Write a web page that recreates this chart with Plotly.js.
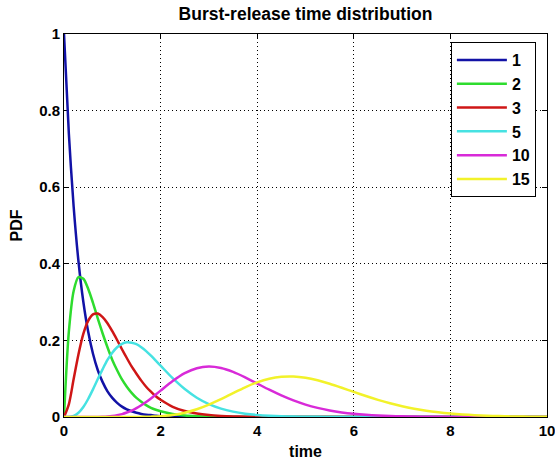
<!DOCTYPE html>
<html>
<head>
<meta charset="utf-8">
<script src="https://cdn.plot.ly/plotly-3.0.1.min.js"></script>
<style>html,body{margin:0;padding:0;background:#fff;}#chart{width:555px;height:464px;}</style>
</head>
<body>
<div id="chart"></div>
<script>
// time samples (shared by all curves)
var time = [0,0.1,0.2,0.3,0.4,0.5,0.6,0.7,0.8,0.9,1.0,1.1,1.2,1.3,1.4,1.5,1.6,1.7,1.8,1.9,2.0,
  2.25,2.5,2.75,3,3.25,3.5,3.75,4,4.25,4.5,4.75,5,5.25,5.5,5.75,6,6.25,6.5,6.75,7,7.25,7.5,7.75,8,8.25,8.5,8.75,9,9.25,9.5,9.75,10];

var seriesNames = ['1','2','3','5','10','15'];

var pdf1 = [1,0.741,0.549,0.406,0.301,0.223,0.165,0.122,0.091,0.067,0.050,0.037,0.027,0.020,0.015,0.011,0.008,0.006,0.005,0.003,0.002,
  0.0012,0.0006,0.0003,0.0001,0,0,0,0,0,0,0,0,0,0,0,0,0,0,0,0,0,0,0,0,0,0,0,0,0,0,0,0];
var pdf2 = [0,0.222,0.329,0.365,0.361,0.335,0.298,0.257,0.218,0.182,0.149,0.122,0.098,0.079,0.063,0.050,0.040,0.031,0.024,0.019,0.015,
  0.0079,0.0041,0.0022,0.0011,0.0006,0.0003,0.00015,0.00007,0,0,0,0,0,0,0,0,0,0,0,0,0,0,0,0,0,0,0,0,0,0,0,0];
var pdf3 = [0,0.033,0.099,0.164,0.217,0.251,0.268,0.270,0.261,0.245,0.224,0.201,0.177,0.154,0.132,0.113,0.095,0.079,0.066,0.054,0.045,
  0.0267,0.0156,0.0089,0.0050,0.0028,0.0015,0.0008,0.0004,0.0002,0.0001,0,0,0,0,0,0,0,0,0,0,0,0,0,0,0,0,0,0,0,0,0,0];
var pdf5 = [0,0.0003,0.003,0.011,0.026,0.047,0.072,0.099,0.125,0.149,0.168,0.182,0.191,0.195,0.194,0.190,0.182,0.172,0.160,0.147,0.134,
  0.1013,0.0729,0.0504,0.0337,0.0220,0.0140,0.0087,0.0053,0.0032,0.0019,0.0011,0.0007,0.0004,0.0002,0.0001,0.0001,0,0,0,0,0,0,0,0,0,0,0,0,0,0,0,0];
var pdf10 = [0,0,0,0,0,0.00002,0.00009,0.00027,0.00066,0.0014,0.0027,0.0047,0.0076,0.0117,0.0168,0.0232,0.0307,0.0392,0.0486,0.0586,0.0688,
  0.0939,0.1144,0.1275,0.1318,0.1279,0.1177,0.1035,0.0874,0.0712,0.0563,0.0432,0.0324,0.0238,0.0171,0.0120,0.0083,0.0057,0.0038,0.0025,0.0017,0.0011,0.0007,0.0004,0.0003,0.0002,0.0001,0.00006,0.00004,0.00002,0.00001,0.00001,0];
var pdf15 = [0,0,0,0,0,0,0,0,0,0,0,0,0.00002,0.00004,0.00009,0.00018,0.00033,0.00056,0.00093,0.00147,0.00223,
  0.0055,0.0113,0.0203,0.0324,0.0469,0.0625,0.0776,0.0905,0.0999,0.1050,0.1058,0.1024,0.0958,0.0868,0.0764,0.0655,0.0548,0.0448,0.0359,0.0282,0.0218,0.0165,0.0124,0.0091,0.0066,0.0048,0.0034,0.0024,0.0016,0.0011,0.0008,0.0005];

var xTicks = [0,2,4,6,8,10];
var yTicks = [0,0.2,0.4,0.6,0.8,1];
var yTickLabels = ['0','0.2','0.4','0.6','0.8','1'];

var allY = [pdf1,pdf2,pdf3,pdf5,pdf10,pdf15];
var colors = ['#1212a6','#2edc2e','#cf1616','#46e2e2','#d82ad8','#f2f22a'];

var traces = allY.map(function(y,i){
  return {x: time, y: y, type: 'scatter', mode: 'lines', name: seriesNames[i],
    line: {color: colors[i], width: 2.5, shape: 'spline', smoothing: 0.8}};
});

var fontFam = 'Liberation Sans, Arial, sans-serif';
var axisCommon = {
  showline: true, linecolor: '#000', linewidth: 1, mirror: 'ticks',
  ticks: 'inside', ticklen: 5, tickcolor: '#000', tickwidth: 1,
  showgrid: true, gridcolor: '#000', gridwidth: 1, griddash: '1px,3px',
  zeroline: false, layer: 'below traces', ticklabeloverflow: 'allow',
  tickfont: {family: fontFam, size: 15, color: '#000', weight: 'bold'}
};

var layout = {
  width: 555, height: 464,
  margin: {l: 64, r: 8, t: 34, b: 47},
  paper_bgcolor: '#fff', plot_bgcolor: '#fff',
  title: {text: 'Burst-release time distribution', x: 0.5, xref: 'paper', y: 0.971, yref: 'container', yanchor: 'middle',
    font: {family: fontFam, size: 17.5, color: '#000', weight: 'bold'}},
  xaxis: Object.assign({}, axisCommon, {range: [0,10], tickvals: xTicks, ticktext: xTicks.map(String),
    title: {text: 'time', standoff: 7, font: {family: fontFam, size: 16, color: '#000', weight: 'bold'}}}),
  yaxis: Object.assign({}, axisCommon, {range: [0,1], tickvals: yTicks, ticktext: yTickLabels,
    title: {text: 'PDF', standoff: 12, font: {family: fontFam, size: 16, color: '#000', weight: 'bold'}}}),
  legend: {x: 0.801, y: 0.979, xanchor: 'left', yanchor: 'top', bgcolor: '#fff', bordercolor: '#000', borderwidth: 1,
    font: {family: fontFam, size: 16, color: '#000', weight: 'bold'}, tracegroupgap: 0, itemwidth: 50},
  showlegend: true
};

Plotly.newPlot('chart', traces, layout, {displayModeBar: false, staticPlot: true});
</script>
</body>
</html>
